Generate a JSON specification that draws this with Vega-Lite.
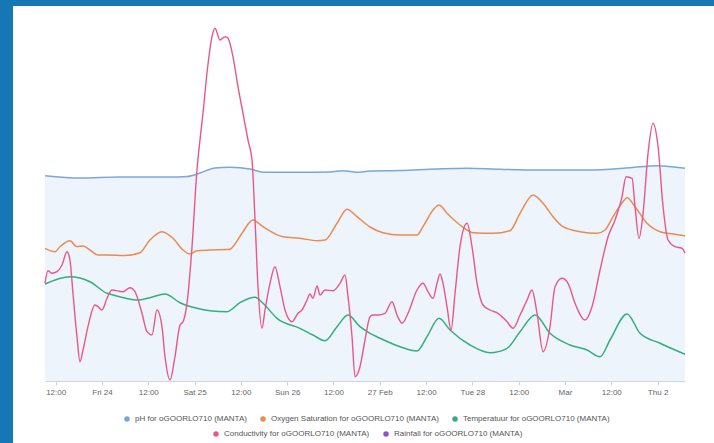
{
  "$schema": "https://vega.github.io/schema/vega-lite/v6.json",
  "width": 701,
  "height": 437,
  "autosize": {"type": "none"},
  "padding": {"left": 13, "top": 6, "right": 0, "bottom": 0},
  "background": "#1577b3",
  "config": {
    "view": {"fill": "#ffffff", "stroke": null},
    "font": "Liberation Sans"
  },
  "datasets": {
    "ph": [
      {"t": "2023-02-23T09:14", "v": 205.3},
      {"t": "2023-02-23T18:18", "v": 203},
      {"t": "2023-02-24T04:40", "v": 204},
      {"t": "2023-02-24T17:38", "v": 204},
      {"t": "2023-02-24T22:02", "v": 204.5},
      {"t": "2023-02-25T01:24", "v": 208},
      {"t": "2023-02-25T05:17", "v": 213},
      {"t": "2023-02-25T09:11", "v": 213.7},
      {"t": "2023-02-25T14:22", "v": 212},
      {"t": "2023-02-25T17:44", "v": 208.7},
      {"t": "2023-02-26T03:19", "v": 208.7},
      {"t": "2023-02-26T11:06", "v": 209},
      {"t": "2023-02-26T14:28", "v": 210.3},
      {"t": "2023-02-26T18:06", "v": 208.7},
      {"t": "2023-02-26T21:28", "v": 210},
      {"t": "2023-02-27T05:14", "v": 210.5},
      {"t": "2023-02-27T14:50", "v": 212},
      {"t": "2023-02-27T22:37", "v": 212.7},
      {"t": "2023-02-28T07:10", "v": 211.7},
      {"t": "2023-02-28T17:32", "v": 211},
      {"t": "2023-03-01T05:43", "v": 211},
      {"t": "2023-03-01T16:52", "v": 213.3},
      {"t": "2023-03-01T23:52", "v": 215.3},
      {"t": "2023-03-02T07:06", "v": 212.7}
    ],
    "oxygen": [
      {"t": "2023-02-23T09:14", "v": 132.7},
      {"t": "2023-02-23T11:49", "v": 129.3},
      {"t": "2023-02-23T13:07", "v": 134.3},
      {"t": "2023-02-23T15:42", "v": 140.3},
      {"t": "2023-02-23T17:31", "v": 134.3},
      {"t": "2023-02-23T19:05", "v": 135},
      {"t": "2023-02-23T20:53", "v": 131},
      {"t": "2023-02-23T22:58", "v": 126},
      {"t": "2023-02-24T01:18", "v": 126},
      {"t": "2023-02-24T05:58", "v": 125.5},
      {"t": "2023-02-24T09:51", "v": 128.3},
      {"t": "2023-02-24T12:26", "v": 141},
      {"t": "2023-02-24T15:33", "v": 149.3},
      {"t": "2023-02-24T18:24", "v": 142.7},
      {"t": "2023-02-24T21:00", "v": 131},
      {"t": "2023-02-24T22:49", "v": 127},
      {"t": "2023-02-25T00:37", "v": 130.3},
      {"t": "2023-02-25T03:59", "v": 131},
      {"t": "2023-02-25T09:11", "v": 131.7},
      {"t": "2023-02-25T09:57", "v": 134.3},
      {"t": "2023-02-25T12:33", "v": 149.3},
      {"t": "2023-02-25T15:08", "v": 161},
      {"t": "2023-02-25T17:44", "v": 154.3},
      {"t": "2023-02-25T22:55", "v": 144.3},
      {"t": "2023-02-26T03:19", "v": 142.7},
      {"t": "2023-02-26T07:44", "v": 140.3},
      {"t": "2023-02-26T09:48", "v": 141},
      {"t": "2023-02-26T12:55", "v": 157.7},
      {"t": "2023-02-26T15:30", "v": 171.7},
      {"t": "2023-02-26T18:06", "v": 164.3},
      {"t": "2023-02-26T21:28", "v": 154},
      {"t": "2023-02-27T00:50", "v": 148.3},
      {"t": "2023-02-27T05:14", "v": 146},
      {"t": "2023-02-27T09:39", "v": 146},
      {"t": "2023-02-27T11:12", "v": 154.3},
      {"t": "2023-02-27T13:48", "v": 171},
      {"t": "2023-02-27T15:21", "v": 176},
      {"t": "2023-02-27T17:25", "v": 167.7},
      {"t": "2023-02-27T20:47", "v": 156},
      {"t": "2023-02-28T00:10", "v": 148.3},
      {"t": "2023-02-28T05:21", "v": 147.7},
      {"t": "2023-02-28T09:45", "v": 150.3},
      {"t": "2023-02-28T12:21", "v": 167.7},
      {"t": "2023-02-28T15:43", "v": 186},
      {"t": "2023-02-28T18:19", "v": 177.7},
      {"t": "2023-02-28T20:54", "v": 164.3},
      {"t": "2023-02-28T23:29", "v": 154.3},
      {"t": "2023-03-01T03:54", "v": 149.3},
      {"t": "2023-03-01T08:18", "v": 147.7},
      {"t": "2023-03-01T10:23", "v": 151},
      {"t": "2023-03-01T12:27", "v": 164.3},
      {"t": "2023-03-01T15:02", "v": 179.3},
      {"t": "2023-03-01T16:05", "v": 183.3},
      {"t": "2023-03-01T18:09", "v": 174.3},
      {"t": "2023-03-01T21:16", "v": 157.7},
      {"t": "2023-03-02T00:38", "v": 149.3},
      {"t": "2023-03-02T04:00", "v": 147},
      {"t": "2023-03-02T07:06", "v": 145.3}
    ],
    "temp": [
      {"t": "2023-02-23T09:14", "v": 97},
      {"t": "2023-02-23T15:42", "v": 104.3},
      {"t": "2023-02-23T20:53", "v": 99.3},
      {"t": "2023-02-24T01:18", "v": 87.7},
      {"t": "2023-02-24T02:51", "v": 86},
      {"t": "2023-02-24T09:04", "v": 81},
      {"t": "2023-02-24T12:26", "v": 83.3},
      {"t": "2023-02-24T16:20", "v": 87},
      {"t": "2023-02-24T20:13", "v": 78.3},
      {"t": "2023-02-25T00:37", "v": 72.7},
      {"t": "2023-02-25T03:59", "v": 70.3},
      {"t": "2023-02-25T08:24", "v": 69.3},
      {"t": "2023-02-25T11:46", "v": 78.3},
      {"t": "2023-02-25T15:40", "v": 83.7},
      {"t": "2023-02-25T17:44", "v": 77.7},
      {"t": "2023-02-25T21:22", "v": 62.7},
      {"t": "2023-02-26T03:19", "v": 52.7},
      {"t": "2023-02-26T06:41", "v": 46},
      {"t": "2023-02-26T09:48", "v": 40.3},
      {"t": "2023-02-26T12:55", "v": 54.3},
      {"t": "2023-02-26T15:46", "v": 66},
      {"t": "2023-02-26T18:52", "v": 54.3},
      {"t": "2023-02-26T21:28", "v": 47.7},
      {"t": "2023-02-27T00:04", "v": 42.7},
      {"t": "2023-02-27T05:14", "v": 34.3},
      {"t": "2023-02-27T09:39", "v": 30},
      {"t": "2023-02-27T12:14", "v": 44.3},
      {"t": "2023-02-27T15:21", "v": 62.7},
      {"t": "2023-02-27T18:12", "v": 51},
      {"t": "2023-02-27T23:23", "v": 36},
      {"t": "2023-02-28T04:34", "v": 28.3},
      {"t": "2023-02-28T08:59", "v": 32.7},
      {"t": "2023-02-28T12:21", "v": 49.3},
      {"t": "2023-02-28T16:14", "v": 66},
      {"t": "2023-02-28T20:07", "v": 47.7},
      {"t": "2023-03-01T01:18", "v": 36},
      {"t": "2023-03-01T05:43", "v": 31},
      {"t": "2023-03-01T09:05", "v": 24.3},
      {"t": "2023-03-01T11:40", "v": 41},
      {"t": "2023-03-01T16:05", "v": 67},
      {"t": "2023-03-01T19:27", "v": 47.7},
      {"t": "2023-03-02T00:38", "v": 37.7},
      {"t": "2023-03-02T07:06", "v": 26.7}
    ],
    "cond": [
      {"t": "2023-02-23T09:14", "v": 98},
      {"t": "2023-02-23T10:00", "v": 110.3},
      {"t": "2023-02-23T11:02", "v": 107.7},
      {"t": "2023-02-23T12:20", "v": 109.3},
      {"t": "2023-02-23T13:38", "v": 116},
      {"t": "2023-02-23T14:56", "v": 129.3},
      {"t": "2023-02-23T15:42", "v": 121},
      {"t": "2023-02-23T16:29", "v": 87.7},
      {"t": "2023-02-23T17:31", "v": 44.3},
      {"t": "2023-02-23T18:18", "v": 19.3},
      {"t": "2023-02-23T19:05", "v": 31},
      {"t": "2023-02-23T20:22", "v": 54.3},
      {"t": "2023-02-23T22:11", "v": 76},
      {"t": "2023-02-23T22:58", "v": 74.3},
      {"t": "2023-02-24T00:00", "v": 71},
      {"t": "2023-02-24T01:18", "v": 82.7},
      {"t": "2023-02-24T02:35", "v": 91},
      {"t": "2023-02-24T05:26", "v": 89.3},
      {"t": "2023-02-24T07:15", "v": 93.3},
      {"t": "2023-02-24T08:33", "v": 89.3},
      {"t": "2023-02-24T10:22", "v": 67.7},
      {"t": "2023-02-24T11:40", "v": 49.3},
      {"t": "2023-02-24T12:58", "v": 46},
      {"t": "2023-02-24T14:15", "v": 71},
      {"t": "2023-02-24T15:33", "v": 54.3},
      {"t": "2023-02-24T16:20", "v": 24.3},
      {"t": "2023-02-24T17:38", "v": 1},
      {"t": "2023-02-24T18:55", "v": 24.3},
      {"t": "2023-02-24T20:13", "v": 56},
      {"t": "2023-02-24T21:00", "v": 59.3},
      {"t": "2023-02-24T22:02", "v": 77.7},
      {"t": "2023-02-24T23:20", "v": 134.3},
      {"t": "2023-02-25T00:37", "v": 211},
      {"t": "2023-02-25T01:24", "v": 241},
      {"t": "2023-02-25T02:11", "v": 268},
      {"t": "2023-02-25T03:13", "v": 308},
      {"t": "2023-02-25T04:31", "v": 344.3},
      {"t": "2023-02-25T05:17", "v": 352.7},
      {"t": "2023-02-25T06:35", "v": 341},
      {"t": "2023-02-25T07:53", "v": 344.3},
      {"t": "2023-02-25T08:40", "v": 342.7},
      {"t": "2023-02-25T09:57", "v": 324.3},
      {"t": "2023-02-25T11:15", "v": 294.3},
      {"t": "2023-02-25T12:33", "v": 267.7},
      {"t": "2023-02-25T13:50", "v": 241},
      {"t": "2023-02-25T14:53", "v": 221},
      {"t": "2023-02-25T15:40", "v": 161},
      {"t": "2023-02-25T16:26", "v": 94.3},
      {"t": "2023-02-25T17:28", "v": 52.7},
      {"t": "2023-02-25T18:15", "v": 71},
      {"t": "2023-02-25T19:33", "v": 97.7},
      {"t": "2023-02-25T20:50", "v": 114.3},
      {"t": "2023-02-25T22:08", "v": 94.3},
      {"t": "2023-02-25T23:26", "v": 71},
      {"t": "2023-02-26T01:15", "v": 59.3},
      {"t": "2023-02-26T02:48", "v": 67.7},
      {"t": "2023-02-26T03:50", "v": 71},
      {"t": "2023-02-26T05:08", "v": 81},
      {"t": "2023-02-26T05:55", "v": 87},
      {"t": "2023-02-26T06:41", "v": 82.7},
      {"t": "2023-02-26T07:44", "v": 95},
      {"t": "2023-02-26T08:31", "v": 86},
      {"t": "2023-02-26T09:48", "v": 91},
      {"t": "2023-02-26T11:53", "v": 90.3},
      {"t": "2023-02-26T13:41", "v": 97.7},
      {"t": "2023-02-26T14:59", "v": 106},
      {"t": "2023-02-26T15:46", "v": 84.3},
      {"t": "2023-02-26T16:48", "v": 44.3},
      {"t": "2023-02-26T17:35", "v": 4.3},
      {"t": "2023-02-26T18:52", "v": 14.3},
      {"t": "2023-02-26T20:10", "v": 41},
      {"t": "2023-02-26T21:28", "v": 64.3},
      {"t": "2023-02-26T22:14", "v": 66},
      {"t": "2023-02-26T23:32", "v": 66},
      {"t": "2023-02-27T01:21", "v": 67.7},
      {"t": "2023-02-27T03:10", "v": 79.3},
      {"t": "2023-02-27T04:28", "v": 66},
      {"t": "2023-02-27T05:46", "v": 57.7},
      {"t": "2023-02-27T07:19", "v": 67.7},
      {"t": "2023-02-27T09:39", "v": 91},
      {"t": "2023-02-27T11:12", "v": 97.7},
      {"t": "2023-02-27T12:30", "v": 89.3},
      {"t": "2023-02-27T13:48", "v": 82.7},
      {"t": "2023-02-27T14:50", "v": 97.7},
      {"t": "2023-02-27T15:37", "v": 107},
      {"t": "2023-02-27T16:23", "v": 97.7},
      {"t": "2023-02-27T17:25", "v": 74.3},
      {"t": "2023-02-27T18:28", "v": 51},
      {"t": "2023-02-27T19:30", "v": 87.7},
      {"t": "2023-02-27T20:47", "v": 134.3},
      {"t": "2023-02-27T22:37", "v": 157.7},
      {"t": "2023-02-27T23:54", "v": 134.3},
      {"t": "2023-02-28T01:12", "v": 97.7},
      {"t": "2023-02-28T02:45", "v": 76},
      {"t": "2023-02-28T04:34", "v": 71},
      {"t": "2023-02-28T06:38", "v": 67.7},
      {"t": "2023-02-28T08:59", "v": 59.3},
      {"t": "2023-02-28T10:32", "v": 52.7},
      {"t": "2023-02-28T12:21", "v": 66},
      {"t": "2023-02-28T14:10", "v": 81},
      {"t": "2023-02-28T15:27", "v": 91},
      {"t": "2023-02-28T16:45", "v": 67.7},
      {"t": "2023-02-28T18:19", "v": 29.3},
      {"t": "2023-02-28T20:07", "v": 54.3},
      {"t": "2023-02-28T21:25", "v": 94.3},
      {"t": "2023-02-28T23:14", "v": 102.7},
      {"t": "2023-03-01T00:47", "v": 97.7},
      {"t": "2023-03-01T02:36", "v": 77.7},
      {"t": "2023-03-01T05:11", "v": 61},
      {"t": "2023-03-01T07:00", "v": 74.3},
      {"t": "2023-03-01T09:05", "v": 111},
      {"t": "2023-03-01T11:10", "v": 144.3},
      {"t": "2023-03-01T12:58", "v": 161},
      {"t": "2023-03-01T14:47", "v": 184.3},
      {"t": "2023-03-01T15:49", "v": 204.3},
      {"t": "2023-03-01T17:23", "v": 202.7},
      {"t": "2023-03-01T18:09", "v": 174.3},
      {"t": "2023-03-01T19:11", "v": 142.7},
      {"t": "2023-03-01T20:14", "v": 167.7},
      {"t": "2023-03-01T21:31", "v": 227.7},
      {"t": "2023-03-01T22:49", "v": 257.7},
      {"t": "2023-03-02T00:07", "v": 234.3},
      {"t": "2023-03-02T01:25", "v": 174.3},
      {"t": "2023-03-02T02:43", "v": 141},
      {"t": "2023-03-02T04:31", "v": 134.3},
      {"t": "2023-03-02T06:20", "v": 132.7},
      {"t": "2023-03-02T07:06", "v": 127.7}
    ]
  },
  "encoding": {
    "x": {
      "field": "t",
      "type": "temporal",
      "scale": {
        "domain": [
          {"year": 2023, "month": 2, "date": 23, "hours": 9, "minutes": 14},
          {"year": 2023, "month": 3, "date": 2, "hours": 7, "minutes": 6}
        ],
        "range": [32, 672],
        "nice": false
      },
      "axis": {
        "title": null,
        "grid": false,
        "offset": -62,
        "values": [
          {"year": 2023, "month": 2, "date": 23, "hours": 12},
          {"year": 2023, "month": 2, "date": 24, "hours": 0},
          {"year": 2023, "month": 2, "date": 24, "hours": 12},
          {"year": 2023, "month": 2, "date": 25, "hours": 0},
          {"year": 2023, "month": 2, "date": 25, "hours": 12},
          {"year": 2023, "month": 2, "date": 26, "hours": 0},
          {"year": 2023, "month": 2, "date": 26, "hours": 12},
          {"year": 2023, "month": 2, "date": 27, "hours": 0},
          {"year": 2023, "month": 2, "date": 27, "hours": 12},
          {"year": 2023, "month": 2, "date": 28, "hours": 0},
          {"year": 2023, "month": 2, "date": 28, "hours": 12},
          {"year": 2023, "month": 3, "date": 1, "hours": 0},
          {"year": 2023, "month": 3, "date": 1, "hours": 12},
          {"year": 2023, "month": 3, "date": 2, "hours": 0}
        ],
        "labelExpr": "hours(datum.value) == 12 ? '12:00' : date(datum.value) == 1 ? timeFormat(datum.value, '%b') : day(datum.value) == 1 ? timeFormat(datum.value, '%d %b') : timeFormat(datum.value, '%a ') + date(datum.value)",
        "labelOverlap": false,
        "labelFlush": false,
        "domainColor": "#ccd6eb",
        "tickColor": "#ccd6eb",
        "tickSize": 4,
        "labelPadding": 3,
        "labelFont": "Liberation Sans",
        "labelFontSize": 8,
        "labelColor": "#666666"
      }
    },
    "y": {
      "field": "v",
      "type": "quantitative",
      "scale": {"domain": [0, 375], "range": [375, 0], "nice": false, "zero": false},
      "axis": null
    }
  },
  "layer": [
    {
      "data": {"name": "ph"},
      "mark": {"type": "area", "color": "#eef4fb", "interpolate": "monotone"}
    },
    {
      "data": {"name": "ph"},
      "mark": {"type": "line", "strokeWidth": 1.5, "interpolate": "monotone"},
      "encoding": {
        "color": {
          "datum": "pH for oGOORLO710 (MANTA)",
          "scale": {
            "domain": ["pH for oGOORLO710 (MANTA)", "Oxygen Saturation for oGOORLO710 (MANTA)", "Temperatuur for oGOORLO710 (MANTA)"],
            "range": ["#7aa6de", "#ec8a50", "#34ad80"]
          },
          "legend": {
            "title": null,
            "orient": "none",
            "legendX": 110,
            "legendY": 409,
            "direction": "horizontal",
            "padding": 0,
            "symbolType": "circle",
            "symbolSize": 30,
            "labelFont": "Liberation Sans",
            "labelFontSize": 8,
            "labelLimit": 400,
            "labelColor": "#555555",
            "labelOffset": 4,
            "columnPadding": 12,
            "encode": {"symbols": {"update": {"fill": {"scale": "color", "field": "value"}, "stroke": {"value": "transparent"}, "strokeWidth": {"value": 0}, "opacity": {"value": 1}}}}
          }
        }
      }
    },
    {
      "data": {"name": "oxygen"},
      "mark": {"type": "line", "strokeWidth": 1.5, "interpolate": "monotone"},
      "encoding": {"color": {"datum": "Oxygen Saturation for oGOORLO710 (MANTA)"}}
    },
    {
      "data": {"name": "temp"},
      "mark": {"type": "line", "strokeWidth": 1.5, "interpolate": "monotone"},
      "encoding": {"color": {"datum": "Temperatuur for oGOORLO710 (MANTA)"}}
    },
    {
      "data": {"name": "cond"},
      "mark": {"type": "line", "strokeWidth": 1.4, "interpolate": "monotone"},
      "encoding": {
        "stroke": {
          "datum": "Conductivity for oGOORLO710 (MANTA)",
          "scale": {
            "domain": ["Conductivity for oGOORLO710 (MANTA)", "Rainfall for oGOORLO710 (MANTA)"],
            "range": ["#e9578a", "#8e4fd0"]
          },
          "legend": {
            "title": null,
            "orient": "none",
            "legendX": 199,
            "legendY": 424,
            "direction": "horizontal",
            "padding": 0,
            "symbolType": "circle",
            "symbolSize": 30,
            "labelFont": "Liberation Sans",
            "labelFontSize": 8,
            "labelLimit": 400,
            "labelColor": "#555555",
            "labelOffset": 4,
            "columnPadding": 12,
            "encode": {"symbols": {"update": {"fill": {"scale": "stroke", "field": "value"}, "stroke": {"value": "transparent"}, "strokeWidth": {"value": 0}, "opacity": {"value": 1}}}}
          }
        }
      }
    }
  ]
}
